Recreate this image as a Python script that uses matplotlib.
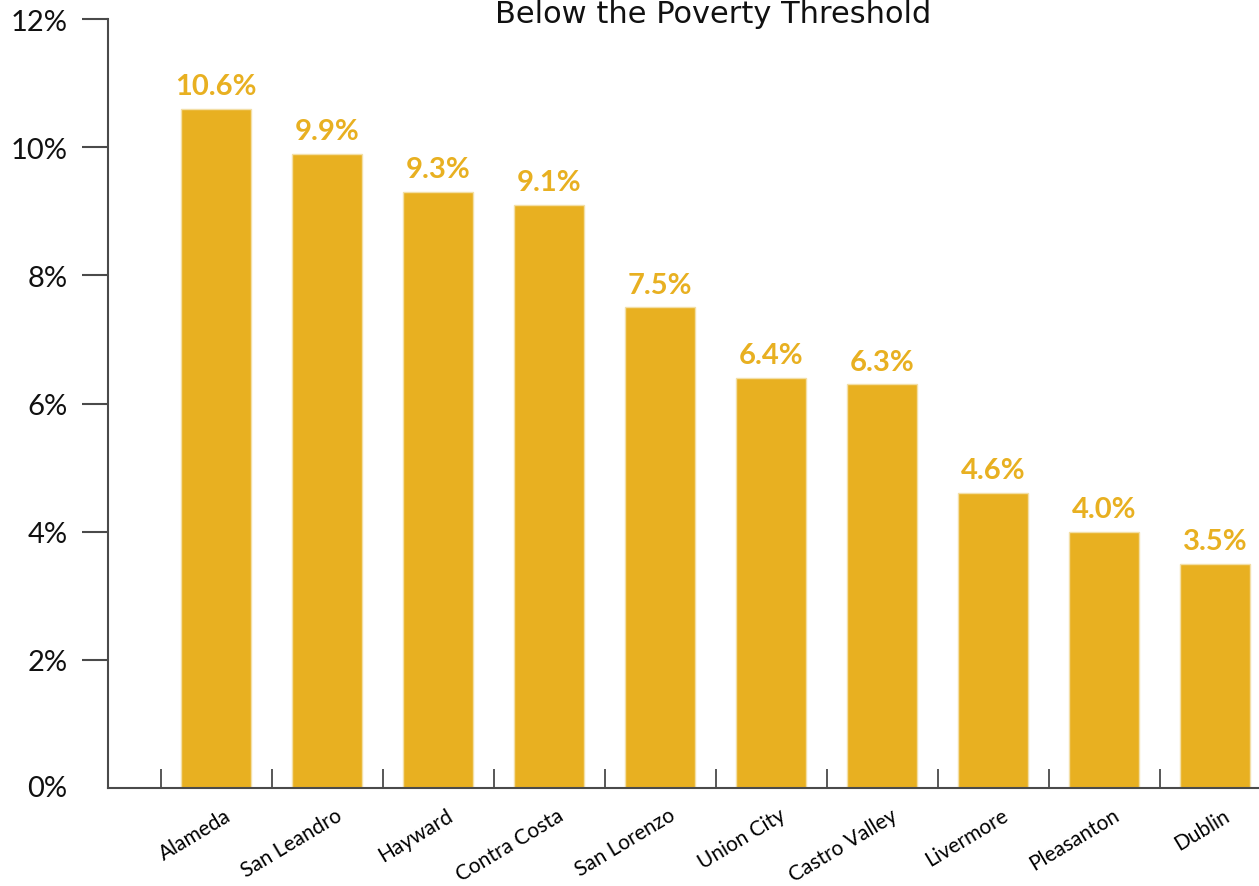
import numpy as np
import matplotlib
matplotlib.use('Agg')
import matplotlib.pyplot as plt
import matplotlib.transforms as mtransforms
from matplotlib.ticker import FixedLocator

# データ
places = ['Alameda', 'San Leandro', 'Hayward', 'Contra Costa', 'San Lorenzo',
          'Union City', 'Castro Valley', 'Livermore', 'Pleasanton', 'Dublin']
poverty = [10.6, 9.9, 9.3, 9.1, 7.5, 6.4, 6.3, 4.6, 4.0, 3.5]
yticks = [2, 4, 6, 8, 10, 12]
title = 'Below the Poverty Threshold'

gold = '#E8B021'
axis_col = '#4a4a4a'

plt.rcParams['font.family'] = ['Lato', 'DejaVu Sans']

fig = plt.figure(figsize=(12.59, 8.87), dpi=100)
ax = fig.add_axes([108/1259, 1 - 789/887, 1 - 108/1259, (789 - 20)/887])

x = np.arange(len(places))
ax.bar(x, poverty, width=0.63, color=gold, edgecolor='#F3DFA6', linewidth=1)

# 値ラベル
for xi, v in zip(x, poverty):
    ax.annotate(f'{v:.1f}%', (xi, v), xytext=(0, 7), textcoords='offset points',
                ha='center', va='bottom', color=gold, fontsize=21, fontweight='bold')

ax.set_xlim(-0.973, 9.396)
ax.set_ylim(0, 12)

ax.spines['top'].set_visible(False)
ax.spines['right'].set_visible(False)
for s in ('left', 'bottom'):
    ax.spines[s].set_color(axis_col)
    ax.spines[s].set_linewidth(1.5)

ax.set_yticks(yticks)
ax.set_yticklabels([f'{t}%' for t in yticks])
ax.tick_params(axis='y', length=19, width=1.5, color=axis_col, pad=10, labelsize=21, labelcolor='#111111')

# 0%はティック無しでラベルだけ
ax.annotate('0%', (0, 0), xycoords='axes fraction', xytext=(-29, 0), textcoords='offset points',
            ha='right', va='center', fontsize=21, color='#111111')

ax.set_xticks(x)
ax.set_xticklabels(places, rotation=31, ha='right', rotation_mode='anchor', fontsize=15)
ax.tick_params(axis='x', which='major', length=0, pad=12)
shift = mtransforms.ScaledTranslation(8/100, 0, fig.dpi_scale_trans)
for lab in ax.get_xticklabels():
    lab.set_transform(lab.get_transform() + shift)
ax.xaxis.set_minor_locator(FixedLocator(x - 0.5))
ax.tick_params(axis='x', which='minor', direction='in', length=14, width=1.3, color=axis_col)

fig.text(713.5/1259, 1 - 23/887, title, ha='center', va='baseline', fontsize=22,
         family='DejaVu Sans', color='#111111')

fig.savefig('out.png', dpi=100)
